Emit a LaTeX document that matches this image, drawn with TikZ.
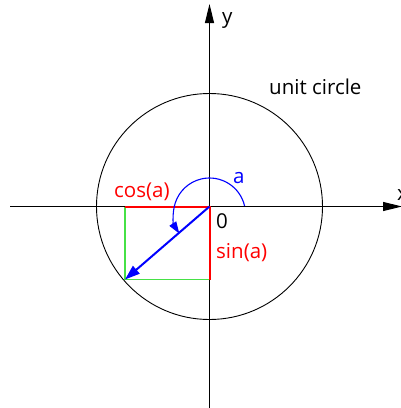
\documentclass[tikz,border=0pt]{standalone}
\usepackage{fontspec}
\setmainfont{Open Sans}
\usetikzlibrary{arrows.meta}
\definecolor{lgreen}{RGB}{70,225,70}
\begin{document}
\begin{tikzpicture}[x=1pt,y=-1pt,
  lbl/.style={inner sep=0pt,anchor=base west,font=\fontsize{20.5}{20.5}\selectfont},
  axis/.style={line width=1.1pt,-{Triangle[length=19pt,width=9pt]}},
  redline/.style={red,line width=2pt},
  greenline/.style={lgreen,line width=1.4pt},
  vec/.style={blue,line width=2pt,-{Triangle[length=15pt,width=10pt]}},
  anglearc/.style={blue,line width=1.1pt,-{Triangle[length=12pt,width=8pt]}}]
\useasboundingbox (0,0) rectangle (400,408);
% coordinates
\coordinate (O) at (209.5,206.5);
\coordinate (P) at (125,279.5);
\coordinate (C) at (125,206.5);
\coordinate (S) at (209.5,279.5);
\coordinate (xs) at (10,206.5);
\coordinate (xe) at (402,206.5);
\coordinate (ys) at (209.5,410);
\coordinate (ye) at (209.5,4);
\coordinate (AC) at (209.5,214);
% circle
\draw[line width=0.9pt] (O) circle[radius=113];
% axes
\draw[axis] (xs) -- (xe);
\draw[axis] (ys) -- (ye);
% green
\draw[greenline] (C) -- (P) -- (S);
% red
\draw[redline] (C) -- (O) -- (S);
% angle arc
\draw[anglearc] (AC) ++(-13:36) arc[start angle=-13,end angle=-213,radius=36];
% vector
\draw[vec] (O) -- (P);
% labels
\node[lbl,red] (cos) at (114,197) {cos(a)};
\node[lbl,red] (sin) at (216,258) {sin(a)};
\node[lbl] (zero) at (216,228.5) {0};
\node[lbl,blue] (a) at (233,183) {a};
\node[lbl] (uc) at (269,94) {unit circle};
\node[lbl] (y) at (222,23) {y};
\node[lbl] (x) at (397,200) {x};
\end{tikzpicture}
\end{document}
